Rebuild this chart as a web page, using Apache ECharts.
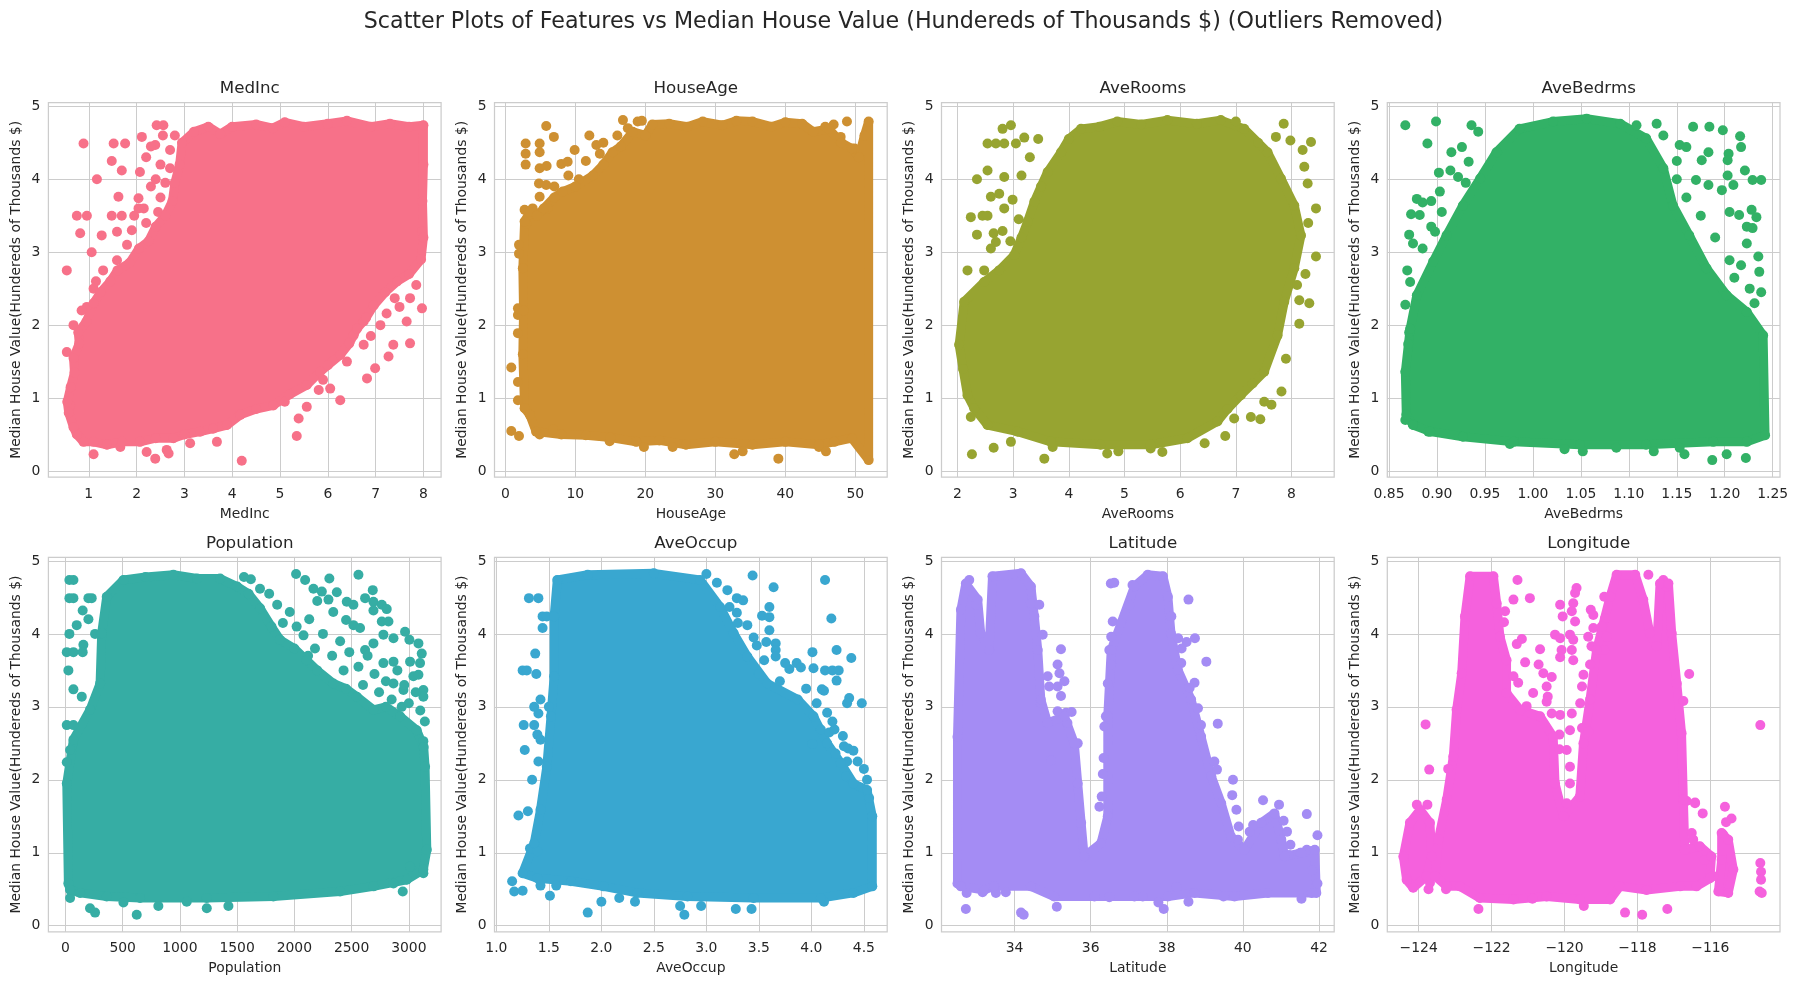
<!DOCTYPE html>
<html>
<head>
<meta charset="utf-8">
<script src="https://cdn.jsdelivr.net/npm/echarts@6/dist/echarts.min.js"></script>
<style>
    html, body { margin: 0; padding: 0; background: #fff; }
    #main { width: 1797px; height: 985px; }
</style>
</head>
<body>
<div id="main"></div>
<script>
// panel names and palette (seaborn husl, 8 colours)
let features = ['MedInc', 'HouseAge', 'AveRooms', 'AveBedrms', 'Population', 'AveOccup', 'Latitude', 'Longitude'];
let colors = ['#f77189', '#ce9032', '#97a431', '#32b166', '#36ada4', '#39a7d0', '#a48cf4', '#f561dd'];

// axis limits and tick values
let x_ranges = [[0.155, 8.37], [-1.55, 54.55], [1.713, 8.767], [0.8482, 1.2576], [-148.5, 3282], [0.982, 4.722], [32.08, 42.40], [-124.86, -114.09]];
let x_ticks = [
    [1, 2, 3, 4, 5, 6, 7, 8],
    [0, 10, 20, 30, 40, 50],
    [2, 3, 4, 5, 6, 7, 8],
    [0.85, 0.90, 0.95, 1.00, 1.05, 1.10, 1.15, 1.20, 1.25],
    [0, 500, 1000, 1500, 2000, 2500, 3000],
    [1.0, 1.5, 2.0, 2.5, 3.0, 3.5, 4.0, 4.5],
    [34, 36, 38, 40, 42],
    [-124, -122, -120, -118, -116]
];
let x_decimals = [0, 0, 0, 2, 0, 1, 0, 0];
let y_range = [-0.083, 5.05];
let y_ticks = [0, 1, 2, 3, 4, 5];

// dense part of each cloud: outline [feature value, house value]
let medinc_hull = [[[0.55, 0.95], [0.62, 1.15], [0.70, 1.35], [0.68, 1.55], [0.80, 1.75], [0.78, 1.90], [0.95, 2.05], [1.10, 2.30], [1.25, 2.45], [1.45, 2.60], [1.60, 2.75], [1.85, 2.85], [2.05, 3.05], [2.25, 3.15], [2.40, 3.35], [2.60, 3.50], [2.75, 3.70], [2.80, 3.95], [2.90, 4.20], [2.95, 4.50], [3.20, 4.65], [3.50, 4.72], [3.75, 4.62], [4.00, 4.72], [4.50, 4.75], [4.85, 4.70], [5.10, 4.78], [5.50, 4.72], [6.00, 4.76], [6.40, 4.80], [6.90, 4.72], [7.30, 4.76], [7.70, 4.72], [8.00, 4.74], [8.00, 4.20], [7.98, 3.70], [8.00, 3.20], [7.95, 2.90], [7.70, 2.70], [7.45, 2.60], [7.20, 2.45], [6.96, 2.27], [6.80, 2.10], [6.61, 1.95], [6.45, 1.75], [6.26, 1.59], [6.00, 1.45], [5.84, 1.36], [5.56, 1.18], [5.20, 1.05], [4.86, 0.90], [4.50, 0.85], [4.17, 0.77], [3.89, 0.63], [3.60, 0.58], [3.33, 0.54], [3.00, 0.50], [2.77, 0.45], [2.40, 0.45], [2.07, 0.40], [1.70, 0.40], [1.38, 0.36], [1.10, 0.40], [0.89, 0.40], [0.75, 0.50], [0.68, 0.60], [0.58, 0.80]]];
let house_age_hull = [[[2.75, 0.86], [2.50, 1.60], [2.60, 2.20], [2.50, 2.78], [2.75, 3.42], [3.5, 3.55], [4.5, 3.50], [5.5, 3.60], [7.0, 3.75], [8.2, 3.83], [10.0, 3.90], [12.5, 4.05], [14.0, 4.20], [15.3, 4.37], [16.5, 4.45], [18.2, 4.65], [20.0, 4.60], [21.0, 4.75], [23.4, 4.76], [26.0, 4.72], [28.2, 4.79], [31.0, 4.74], [33.0, 4.80], [35.3, 4.79], [38.0, 4.72], [40.0, 4.78], [42.4, 4.76], [44.0, 4.65], [46.2, 4.69], [48.0, 4.50], [49.5, 4.42], [50.5, 4.30], [51.3, 4.60], [51.9, 4.79], [51.9, 0.15], [49.5, 0.45], [47.0, 0.40], [44.8, 0.36], [40.0, 0.40], [35.3, 0.36], [30.0, 0.40], [25.8, 0.36], [22.0, 0.42], [18.7, 0.40], [15.0, 0.46], [11.5, 0.49], [8.0, 0.50], [4.4, 0.54], [3.5, 0.77]]];
let ave_rooms_hull = [[[2.18, 1.04], [2.10, 1.40], [2.03, 1.73], [2.12, 2.32], [2.48, 2.59], [2.75, 2.75], [3.02, 2.96], [3.15, 3.20], [3.26, 3.42], [3.38, 3.69], [3.50, 3.90], [3.62, 4.10], [3.86, 4.37], [4.00, 4.55], [4.22, 4.69], [4.55, 4.72], [4.87, 4.79], [5.30, 4.75], [5.77, 4.81], [6.30, 4.76], [6.73, 4.81], [7.15, 4.69], [7.40, 4.50], [7.57, 4.37], [7.81, 4.01], [8.05, 3.64], [8.17, 3.23], [8.05, 2.78], [7.87, 2.32], [7.75, 1.86], [7.51, 1.36], [7.30, 1.20], [7.09, 1.04], [6.85, 0.85], [6.67, 0.68], [6.13, 0.45], [5.47, 0.36], [4.57, 0.36], [3.68, 0.40], [3.08, 0.54], [2.54, 0.63], [2.30, 0.86]]];
let ave_bedrms_hull = [[[0.868, 0.77], [0.867, 1.36], [0.872, 1.95], [0.879, 2.41], [0.896, 2.87], [0.910, 3.23], [0.927, 3.64], [0.945, 4.01], [0.962, 4.37], [0.986, 4.69], [1.021, 4.79], [1.056, 4.83], [1.091, 4.76], [1.118, 4.56], [1.136, 4.15], [1.146, 3.64], [1.163, 3.23], [1.181, 2.78], [1.202, 2.41], [1.223, 2.18], [1.240, 1.86], [1.242, 0.49], [1.223, 0.40], [1.188, 0.40], [1.118, 0.36], [1.049, 0.36], [0.980, 0.40], [0.927, 0.47], [0.893, 0.54], [0.875, 0.63]]];
let population_hull = [[[26, 0.58], [12, 1.95], [70, 2.55], [215, 2.96], [303, 3.32], [317, 4.01], [361, 4.51], [507, 4.74], [700, 4.78], [943, 4.81], [1150, 4.76], [1351, 4.76], [1500, 4.65], [1600, 4.55], [1701, 4.35], [1800, 4.10], [1875, 3.92], [2000, 3.80], [2108, 3.64], [2200, 3.50], [2341, 3.32], [2450, 3.25], [2545, 3.14], [2691, 2.96], [2800, 3.00], [2924, 2.87], [3069, 2.68], [3130, 2.45], [3142, 2.18], [3157, 1.04], [3127, 0.77], [2982, 0.63], [2691, 0.54], [2400, 0.47], [1817, 0.40], [1235, 0.38], [652, 0.38], [361, 0.40], [128, 0.45], [41, 0.49]]];
let ave_occup_hull = [[[1.25, 0.72], [1.36, 1.13], [1.42, 1.59], [1.48, 2.18], [1.52, 2.87], [1.55, 3.42], [1.55, 4.24], [1.58, 4.74], [1.87, 4.81], [2.50, 4.83], [2.94, 4.74], [3.13, 4.37], [3.26, 4.01], [3.39, 3.69], [3.58, 3.32], [3.87, 3.10], [4.02, 2.87], [4.15, 2.50], [4.28, 2.23], [4.40, 1.95], [4.53, 1.86], [4.58, 1.50], [4.58, 0.54], [4.40, 0.45], [4.09, 0.38], [3.45, 0.38], [2.82, 0.40], [2.34, 0.45], [2.02, 0.54], [1.71, 0.61], [1.39, 0.65]]];
let latitude_hull = [[[32.50, 0.58], [32.50, 2.59], [32.59, 4.33], [32.72, 4.69], [33.03, 4.47], [33.11, 4.01], [33.33, 3.78], [33.42, 4.79], [34.17, 4.83], [34.43, 4.65], [34.52, 4.24], [34.61, 3.78], [34.69, 3.10], [34.87, 2.78], [35.31, 2.87], [35.57, 2.50], [35.66, 1.95], [35.75, 1.41], [35.83, 0.95], [36.27, 1.13], [36.45, 1.50], [36.45, 2.87], [36.54, 3.78], [36.80, 4.15], [37.15, 4.65], [37.50, 4.81], [37.90, 4.79], [38.03, 4.51], [38.11, 4.01], [38.29, 3.51], [38.64, 3.10], [38.90, 2.59], [39.17, 2.05], [39.43, 1.68], [39.69, 1.22], [40.04, 1.04], [40.48, 1.41], [40.83, 1.54], [41.01, 1.18], [41.10, 0.95], [41.54, 1.00], [41.89, 1.04], [41.93, 0.45], [40.66, 0.45], [39.78, 0.40], [38.73, 0.45], [38.03, 0.40], [37.15, 0.40], [36.10, 0.40], [35.04, 0.40], [34.43, 0.54], [33.46, 0.54], [33.20, 0.49], [32.59, 0.54]]];
let longitude_hull = [
    [[-124.42, 0.95], [-124.24, 1.41], [-123.96, 1.59], [-123.69, 1.41], [-123.64, 0.95], [-123.78, 0.68], [-124.15, 0.52], [-124.33, 0.63]],
    [[-123.55, 0.68], [-123.46, 1.18], [-123.23, 1.73], [-123.05, 2.32], [-122.96, 2.96], [-122.82, 3.46], [-122.73, 4.24], [-122.59, 4.79], [-121.95, 4.79], [-121.86, 4.42], [-121.77, 3.96], [-121.59, 3.64], [-121.59, 3.19], [-121.22, 2.96], [-120.67, 2.87], [-120.31, 2.59], [-120.26, 1.95], [-120.03, 1.50], [-119.58, 1.77], [-119.48, 2.50], [-119.30, 3.10], [-119.12, 3.78], [-118.75, 4.51], [-118.57, 4.81], [-118.06, 4.81], [-117.84, 4.47], [-117.66, 4.01], [-117.47, 3.83], [-117.38, 4.69], [-117.15, 4.69], [-117.06, 4.01], [-116.92, 3.32], [-116.79, 2.64], [-116.74, 1.73], [-116.70, 1.04], [-116.29, 1.09], [-115.97, 0.95], [-116.01, 0.65], [-116.38, 0.54], [-116.83, 0.54], [-117.75, 0.49], [-118.48, 0.54], [-118.75, 0.36], [-119.58, 0.36], [-120.49, 0.40], [-121.40, 0.36], [-122.32, 0.38], [-122.87, 0.54], [-123.23, 0.54]],
    [[-115.69, 1.27], [-115.51, 1.18], [-115.37, 0.77], [-115.51, 0.45], [-115.78, 0.47], [-115.69, 0.90]]
];

// loose points outside the dense part
let medinc_pts = [[0.89, 4.49], [1.52, 4.49], [1.76, 4.49], [1.17, 4.00], [1.48, 4.25], [1.69, 4.12], [2.42, 4.74], [2.56, 4.74], [2.11, 4.58], [2.39, 4.47], [2.07, 4.10], [1.62, 3.76], [0.75, 3.50], [0.96, 3.50], [0.82, 3.26], [1.06, 3.00], [0.54, 2.75], [1.48, 3.50], [1.69, 3.50], [1.27, 3.23], [1.59, 3.28], [2.04, 3.74], [2.04, 3.60], [0.96, 2.25], [0.68, 2.00], [0.54, 1.63], [1.10, 2.50], [1.59, 2.89], [7.97, 2.23], [7.72, 1.75], [7.27, 1.57], [7.37, 1.73], [6.82, 1.27], [6.99, 1.41], [7.65, 2.05], [7.23, 2.16], [7.40, 2.37], [7.72, 2.37], [6.75, 1.73], [6.26, 0.97], [6.05, 1.13], [5.81, 1.11], [5.56, 0.88], [5.39, 0.72], [5.35, 0.48], [4.20, 0.14], [3.68, 0.40], [3.12, 0.38], [2.63, 0.29], [2.67, 0.24], [2.39, 0.17], [2.21, 0.26], [1.10, 0.23], [1.66, 0.33], [0.61, 0.90], [6.75, 2.05], [6.54, 1.86], [7.97, 3.28], [2.20, 4.30], [2.50, 4.20], [2.70, 4.40], [2.30, 3.90], [2.60, 3.95], [2.80, 4.60], [2.45, 3.55], [2.20, 3.40], [1.80, 3.10], [1.90, 3.30], [2.30, 4.45], [2.55, 4.60], [2.70, 4.15], [2.50, 3.75], [2.15, 3.60], [1.95, 3.50], [2.40, 4.00], [1.30, 2.75], [1.15, 2.60], [0.85, 2.20], [6.40, 1.50], [6.90, 1.85], [7.10, 2.00], [7.50, 2.25], [7.85, 2.55], [5.90, 1.25], [5.10, 0.95]];
let house_age_pts = [[0.85, 0.55], [1.95, 0.48], [0.85, 1.42], [1.8, 2.14], [1.8, 2.23], [1.95, 3.10], [1.95, 2.98], [1.8, 1.89], [1.8, 1.22], [1.8, 0.97], [2.9, 4.49], [2.9, 4.35], [2.9, 4.20], [4.9, 4.49], [4.9, 4.37], [5.84, 4.73], [6.93, 4.58], [4.9, 4.15], [5.9, 4.18], [8.0, 4.21], [8.9, 4.24], [9.9, 4.40], [13.0, 4.47], [4.8, 3.94], [5.84, 3.92], [7.0, 3.90], [4.9, 3.76], [2.75, 3.58], [3.0, 3.39], [16.8, 4.81], [18.9, 4.79], [48.8, 4.79], [46.9, 4.75], [45.7, 4.72], [49.9, 4.42], [47.9, 4.58], [32.7, 0.23], [33.9, 0.27], [39.0, 0.17], [44.8, 0.33], [45.8, 0.27], [23.9, 0.33], [19.8, 0.33], [14.9, 0.41], [4.9, 0.50], [6.8, 0.57], [10.5, 4.00], [11.5, 4.25], [14.0, 4.50], [16.0, 4.60], [3.9, 3.60], [6.0, 3.60], [12.0, 4.60], [9.0, 4.05], [13.5, 4.35], [17.5, 4.70], [19.5, 4.80]];
let ave_rooms_pts = [[2.81, 4.69], [2.96, 4.74], [2.54, 4.49], [2.69, 4.49], [2.84, 4.49], [3.05, 4.49], [3.20, 4.57], [2.54, 4.12], [2.35, 4.00], [2.84, 4.03], [2.60, 3.76], [2.75, 3.80], [2.99, 3.72], [2.24, 3.48], [2.45, 3.50], [2.54, 3.50], [2.84, 3.60], [2.35, 3.24], [2.65, 3.26], [2.81, 3.29], [2.60, 3.05], [2.69, 3.14], [2.18, 2.75], [2.48, 2.75], [2.24, 0.74], [2.26, 0.23], [2.65, 0.32], [2.96, 0.40], [3.56, 0.17], [3.71, 0.33], [4.69, 0.24], [4.89, 0.27], [5.47, 0.31], [5.68, 0.26], [6.44, 0.38], [6.81, 0.48], [6.97, 0.72], [7.44, 0.71], [7.27, 0.74], [7.82, 1.09], [7.64, 0.91], [7.51, 0.95], [8.14, 2.02], [7.90, 1.54], [8.32, 2.30], [8.14, 2.34], [8.44, 2.94], [8.44, 3.60], [8.29, 3.94], [8.23, 4.17], [8.35, 4.51], [8.20, 4.40], [7.86, 4.76], [7.98, 4.53], [7.72, 4.58], [7.00, 4.79], [3.30, 4.30], [3.45, 4.55], [3.15, 4.05], [3.10, 3.45], [2.95, 3.15], [8.30, 3.40], [8.25, 2.70], [8.10, 2.55]];
let ave_bedrms_pts = [[0.867, 4.74], [0.899, 4.79], [0.890, 4.49], [0.936, 4.74], [0.943, 4.65], [0.915, 4.37], [0.926, 4.44], [0.902, 4.09], [0.914, 4.12], [0.922, 4.03], [0.933, 4.24], [0.879, 3.73], [0.885, 3.68], [0.894, 3.70], [0.903, 3.83], [0.873, 3.52], [0.882, 3.51], [0.871, 3.24], [0.875, 3.12], [0.894, 3.35], [0.898, 3.28], [0.869, 2.75], [0.872, 2.59], [0.867, 2.28], [0.871, 1.90], [0.870, 1.74], [0.867, 0.70], [1.129, 4.76], [1.136, 4.60], [1.108, 4.74], [1.167, 4.72], [1.184, 4.72], [1.198, 4.67], [1.216, 4.59], [1.217, 4.44], [1.204, 4.35], [1.183, 4.37], [1.176, 4.26], [1.153, 4.47], [1.160, 4.44], [1.203, 4.26], [1.203, 4.05], [1.221, 4.12], [1.229, 3.99], [1.238, 3.99], [1.170, 3.99], [1.183, 3.92], [1.197, 3.85], [1.209, 3.92], [1.205, 3.55], [1.215, 3.51], [1.228, 3.58], [1.233, 3.48], [1.223, 3.35], [1.229, 3.33], [1.223, 3.12], [1.205, 2.89], [1.217, 2.82], [1.235, 2.94], [1.236, 2.73], [1.226, 2.50], [1.238, 2.45], [1.231, 2.30], [1.222, 0.18], [1.202, 0.23], [1.187, 0.15], [1.158, 0.23], [1.153, 0.32], [1.126, 0.27], [1.087, 0.32], [1.052, 0.27], [1.033, 0.30], [0.976, 0.37], [0.891, 0.54], [0.875, 0.64], [1.150, 4.00], [1.160, 3.75], [1.175, 3.50], [1.190, 3.20], [1.210, 2.65], [1.150, 4.25], [0.930, 3.95], [0.905, 3.55], [0.885, 3.05]];
let population_pts = [[35, 4.74], [70, 4.74], [35, 4.49], [70, 4.49], [201, 4.49], [230, 4.49], [151, 4.32], [201, 4.20], [99, 4.12], [35, 4.00], [259, 4.00], [157, 3.85], [12, 3.75], [70, 3.75], [151, 3.75], [26, 3.50], [70, 3.24], [143, 3.14], [12, 2.75], [70, 2.75], [41, 2.41], [12, 2.24], [2015, 4.82], [2094, 4.74], [2306, 4.76], [2560, 4.81], [2167, 4.62], [2240, 4.58], [2298, 4.47], [2371, 4.57], [2458, 4.44], [2516, 4.40], [2685, 4.60], [2618, 4.49], [2691, 4.44], [2764, 4.40], [2807, 4.34], [2691, 4.32], [2452, 4.19], [2516, 4.12], [2574, 4.08], [2764, 4.17], [2822, 4.17], [2967, 4.03], [3005, 3.92], [3084, 3.87], [2866, 3.94], [2778, 3.99], [2691, 3.87], [2618, 3.78], [3113, 3.73], [3098, 3.60], [3011, 3.62], [3040, 3.42], [3084, 3.44], [3127, 3.23], [3127, 3.14], [2953, 3.23], [2938, 3.00], [2866, 3.32], [2778, 3.60], [2866, 3.62], [3127, 2.53], [3127, 0.72], [3011, 0.81], [2947, 0.47], [2866, 0.58], [623, 0.15], [215, 0.24], [259, 0.18], [812, 0.27], [1060, 0.33], [1235, 0.24], [1424, 0.27], [507, 0.32], [41, 0.38], [1620, 4.75], [1700, 4.62], [1780, 4.55], [1560, 4.78], [1850, 4.40], [1900, 4.15], [1960, 4.30], [2020, 4.10], [2080, 3.98], [2130, 4.20], [2180, 3.80], [2250, 4.00], [2330, 3.70], [2400, 3.90], [2430, 3.50], [2480, 3.75], [2560, 3.55], [2600, 3.30], [2640, 3.70], [2700, 3.45], [2740, 3.20], [2800, 3.35], [2850, 3.10], [2900, 3.50], [2960, 3.30], [3000, 3.05], [3060, 3.20], [3100, 2.95], [3140, 2.80], [2340, 4.30], [2200, 4.45], [2120, 3.70]];
let ave_occup_pts = [[1.31, 4.49], [1.40, 4.49], [1.44, 4.24], [1.48, 4.24], [1.44, 4.08], [1.37, 3.73], [1.25, 3.50], [1.29, 3.50], [1.38, 3.45], [1.42, 3.10], [1.36, 3.00], [1.40, 2.91], [1.50, 3.00], [1.26, 2.75], [1.36, 2.75], [1.39, 2.62], [1.42, 2.55], [1.27, 2.41], [1.40, 2.25], [1.34, 2.00], [1.21, 1.51], [1.30, 1.57], [1.32, 1.06], [1.39, 1.02], [1.15, 0.61], [1.17, 0.47], [1.25, 0.48], [1.42, 0.55], [1.57, 0.55], [1.51, 0.41], [1.87, 0.18], [2.00, 0.33], [2.17, 0.38], [2.32, 0.33], [2.75, 0.27], [2.79, 0.15], [2.95, 0.27], [3.28, 0.23], [3.43, 0.23], [4.12, 0.33], [3.44, 4.80], [3.64, 4.64], [4.13, 4.74], [4.19, 4.21], [3.29, 4.49], [3.35, 4.46], [3.22, 4.37], [3.29, 4.29], [3.60, 4.37], [3.53, 4.25], [3.60, 4.23], [3.39, 4.12], [3.60, 4.05], [3.48, 3.84], [3.57, 3.89], [3.66, 3.87], [3.66, 3.78], [3.55, 3.64], [3.66, 3.69], [3.79, 3.52], [4.01, 3.75], [4.24, 3.78], [4.38, 3.67], [3.86, 3.60], [3.90, 3.54], [4.02, 3.53], [4.13, 3.50], [4.20, 3.50], [4.26, 3.50], [4.24, 3.36], [4.10, 3.24], [4.12, 3.22], [4.36, 3.12], [4.34, 3.05], [4.48, 3.05], [4.15, 2.92], [4.09, 2.69], [4.17, 2.65], [4.22, 2.69], [4.31, 2.46], [4.35, 2.43], [4.23, 2.36], [4.34, 2.25], [4.44, 2.25], [4.53, 2.00], [4.33, 2.05], [4.01, 2.49], [3.20, 4.60], [3.30, 4.15], [3.45, 3.95], [3.50, 3.45], [3.70, 3.35], [3.75, 3.60], [3.95, 3.25], [4.05, 3.05], [4.20, 2.80], [4.30, 2.60], [4.40, 2.40], [4.50, 2.15], [4.55, 1.75], [3.10, 4.70], [3.00, 4.82]];
let latitude_pts = [[32.81, 4.74], [32.99, 4.40], [34.43, 4.58], [34.43, 4.42], [34.65, 4.40], [34.74, 3.99], [35.22, 3.79], [35.13, 3.58], [35.18, 3.46], [34.87, 3.42], [34.91, 3.28], [35.13, 3.28], [35.31, 3.35], [35.22, 3.15], [35.13, 2.94], [35.35, 2.92], [35.50, 2.93], [35.39, 2.78], [35.66, 2.50], [34.96, 2.27], [34.69, 3.05], [36.53, 4.69], [36.62, 4.70], [37.10, 4.67], [37.02, 4.40], [36.58, 4.17], [36.54, 3.96], [36.49, 3.78], [36.54, 3.58], [36.45, 3.32], [36.40, 2.87], [36.36, 2.73], [36.34, 2.30], [36.32, 2.08], [36.29, 1.77], [36.23, 1.63], [38.12, 4.24], [38.30, 3.94], [38.52, 3.89], [38.74, 3.94], [38.39, 3.80], [38.57, 4.47], [39.04, 3.62], [38.38, 3.60], [38.73, 3.33], [38.60, 3.26], [38.82, 2.98], [38.90, 2.75], [38.90, 2.59], [39.34, 2.77], [39.25, 2.25], [39.32, 2.14], [39.74, 2.00], [39.72, 1.79], [39.83, 1.59], [39.89, 1.36], [39.87, 1.18], [40.53, 1.72], [40.95, 1.66], [41.07, 1.44], [41.68, 1.53], [41.16, 1.29], [41.96, 1.24], [41.25, 1.11], [41.21, 0.97], [41.51, 1.00], [41.68, 1.04], [41.82, 0.76], [41.96, 0.58], [41.54, 0.37], [41.81, 0.45], [40.18, 1.29], [40.27, 1.38], [32.72, 0.23], [32.74, 0.45], [34.17, 0.18], [34.24, 0.15], [35.11, 0.26], [37.92, 0.23], [38.57, 0.33], [37.78, 0.32], [39.49, 0.40], [38.26, 0.53], [33.16, 0.46], [33.51, 0.45], [33.77, 0.46], [37.37, 0.40], [36.49, 0.39]];
let longitude_pts = [[-124.05, 1.66], [-123.76, 1.66], [-123.81, 2.76], [-123.71, 2.14], [-123.19, 2.15], [-123.69, 0.59], [-123.73, 0.50], [-123.25, 0.50], [-122.36, 0.23], [-120.88, 0.37], [-119.47, 0.27], [-118.34, 0.18], [-117.87, 0.15], [-117.18, 0.23], [-114.63, 2.75], [-114.63, 0.86], [-114.61, 0.74], [-114.61, 0.63], [-114.65, 0.47], [-114.59, 0.45], [-115.60, 1.63], [-115.42, 1.47], [-115.57, 1.42], [-115.65, 1.25], [-116.21, 1.54], [-116.42, 1.69], [-116.51, 1.27], [-116.47, 1.18], [-116.15, 0.90], [-115.92, 0.68], [-121.29, 4.74], [-121.40, 4.47], [-120.95, 4.49], [-121.63, 4.31], [-121.66, 4.16], [-121.17, 3.93], [-121.31, 3.86], [-120.67, 3.79], [-121.08, 3.61], [-120.71, 3.58], [-121.40, 3.42], [-121.27, 3.33], [-120.58, 3.46], [-120.35, 3.41], [-120.86, 3.19], [-120.49, 3.28], [-120.46, 3.14], [-121.04, 3.01], [-120.49, 3.07], [-120.35, 2.91], [-120.12, 2.89], [-120.14, 2.62], [-120.14, 2.42], [-120.12, 4.40], [-120.05, 4.24], [-120.26, 3.99], [-120.12, 3.94], [-120.08, 3.78], [-120.12, 3.68], [-119.67, 4.63], [-119.71, 4.56], [-119.76, 4.42], [-119.80, 4.31], [-119.71, 4.17], [-119.85, 3.99], [-119.76, 3.92], [-119.80, 3.78], [-119.76, 3.64], [-119.48, 3.44], [-119.52, 3.28], [-119.57, 3.05], [-119.80, 2.91], [-119.85, 2.68], [-119.94, 2.41], [-119.85, 2.18], [-119.85, 1.95], [-119.94, 1.68], [-119.28, 4.33], [-119.21, 4.26], [-119.21, 4.08], [-119.35, 3.96], [-119.26, 3.83], [-119.12, 3.78], [-118.91, 4.51], [-118.89, 4.21], [-118.98, 4.10], [-118.84, 3.96], [-118.91, 3.78], [-119.30, 3.58], [-119.52, 2.71], [-119.34, 2.66], [-117.70, 4.81], [-117.29, 4.74], [-117.20, 4.65], [-116.58, 3.45], [-116.74, 3.08], [-116.65, 1.71], [-116.42, 1.68]];

let hulls = [medinc_hull, house_age_hull, ave_rooms_hull, ave_bedrms_hull, population_hull, ave_occup_hull, latitude_hull, longitude_hull];
let loose = [medinc_pts, house_age_pts, ave_rooms_pts, ave_bedrms_pts, population_pts, ave_occup_pts, latitude_pts, longitude_pts];

let HousingChart = (function () {
    let chart = echarts.init(document.getElementById('main'), null, {renderer: 'canvas'});
    let font = 'DejaVu Sans';
    let ink = '#262626';
    let grid_color = '#cccccc';
    let col_left = [48.4, 494.5, 941.5, 1387.3];
    let row_top = [102.6, 557.3];
    let cell_w = 392.7;
    let cell_h = 374.5;

    let fmt_tick = function (i) {
        return function (v) {
            return v.toFixed(x_decimals[i]).replace('-', '\u2212');
        };
    };

    let _init = function () {
        let grids = [], x_axes = [], y_axes = [], titles = [], series = [];
        titles.push({
            text: 'Scatter Plots of Features vs Median House Value (Hundereds of Thousands $) (Outliers Removed)',
            left: 898.5, top: 4, textAlign: 'center',
            textStyle: {fontFamily: font, fontSize: 22.2, fontWeight: 'normal', color: ink, lineHeight: 26}
        });
        features.forEach(function (name, i) {
            let left = col_left[i % 4];
            let top = row_top[Math.floor(i / 4)];
            grids.push({
                left: left, top: top, width: cell_w, height: cell_h,
                show: true, borderColor: grid_color, borderWidth: 1.25, backgroundColor: '#fff'
            });
            titles.push({
                text: name, left: left + cell_w / 2, top: top - 28.5, textAlign: 'center',
                textStyle: {fontFamily: font, fontSize: 16.7, fontWeight: 'normal', color: ink, lineHeight: 20}
            });
            x_axes.push({
                type: 'value', gridIndex: i, min: x_ranges[i][0], max: x_ranges[i][1],
                name: name, nameLocation: 'middle', nameGap: 30,
                nameTextStyle: {fontFamily: font, fontSize: 13.9, color: ink},
                axisLine: {show: false},
                axisTick: {show: false, customValues: x_ticks[i]},
                axisLabel: {customValues: x_ticks[i], formatter: fmt_tick(i), fontFamily: font, fontSize: 13.9, color: ink, margin: 10},
                splitLine: {show: true, lineStyle: {color: grid_color, width: 1}}
            });
            y_axes.push({
                type: 'value', gridIndex: i, min: y_range[0], max: y_range[1],
                name: 'Median House Value(Hundereds of Thousands $)', nameLocation: 'middle', nameGap: 25, nameRotate: 90,
                nameTextStyle: {fontFamily: font, fontSize: 13.9, color: ink},
                axisLine: {show: false},
                axisTick: {show: false, customValues: y_ticks},
                axisLabel: {customValues: y_ticks, fontFamily: font, fontSize: 13.9, color: ink, margin: 8},
                splitLine: {show: true, lineStyle: {color: grid_color, width: 1}}
            });
            // dense core drawn as filled outline, stroke adds a dot radius
            series.push({
                type: 'custom', xAxisIndex: i, yAxisIndex: i, silent: true, z: 2,
                data: hulls[i].map(function (h) { return h[0]; }),
                renderItem: function (params, api) {
                    let pts = hulls[i][params.dataIndex].map(function (p) { return api.coord(p); });
                    return {
                        type: 'polygon',
                        shape: {points: pts},
                        style: {fill: colors[i], stroke: colors[i], lineWidth: 9, lineJoin: 'round'}
                    };
                }
            });
            let dots = loose[i].concat(...hulls[i]);
            series.push({
                type: 'scatter', xAxisIndex: i, yAxisIndex: i, silent: true, z: 3,
                symbol: 'circle', symbolSize: 10,
                itemStyle: {color: colors[i], opacity: 1},
                data: dots
            });
        });

        chart.setOption({
            animation: false,
            backgroundColor: '#fff',
            title: titles,
            grid: grids,
            xAxis: x_axes,
            yAxis: y_axes,
            series: series
        });
    };

    return {
        init: _init
    };
})();
HousingChart.init();
</script>
</body>
</html>
